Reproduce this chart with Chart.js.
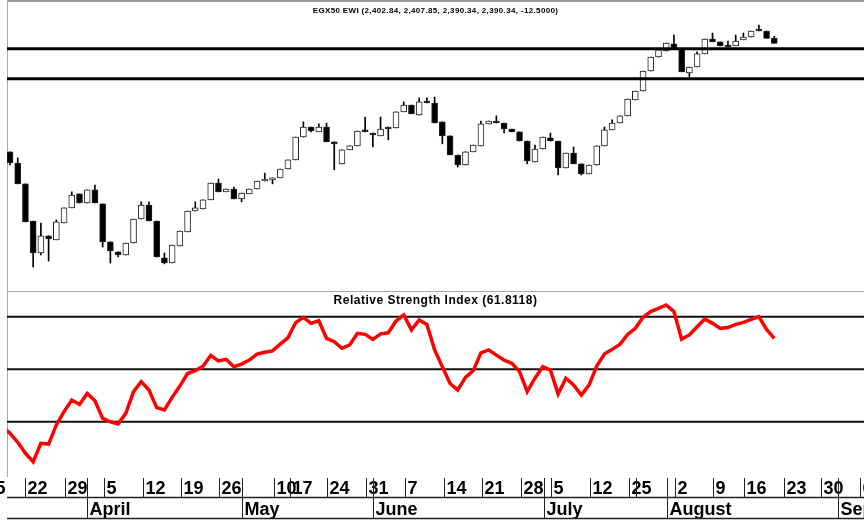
<!DOCTYPE html>
<html>
<head>
<meta charset="utf-8">
<script src="https://cdn.jsdelivr.net/npm/chart.js@4.4.0/dist/chart.umd.min.js"></script>
<style>
  html, body { margin: 0; padding: 0; background: #fff; }
  canvas { display: block; }
</style>
</head>
<body>
<canvas id="chart" width="864" height="523"></canvas>
<script>
// ── Данные: EGX50 EWI, дневные свечи ─────────────────────
const open = [2119, 2091, 2039, 1946, 1866, 1909, 1899, 1941, 1979, 2014,
  1991, 2024, 1989, 1894, 1869, 1861, 1891, 1951, 1986, 1946,
  1854, 1841, 1884, 1919, 1971, 1976, 1999, 2041, 2019, 2026,
  2001, 2014, 2026, 2046, 2049, 2054, 2076, 2099, 2156, 2181,
  2169, 2181, 2144, 2089, 2124, 2134, 2171, 2166, 2159, 2181,
  2179, 2219, 2236, 2211, 2246, 2241, 2194, 2159, 2111, 2086,
  2119, 2134, 2189, 2196, 2191, 2176, 2169, 2146, 2094, 2126,
  2154, 2146, 2079, 2116, 2089, 2064, 2086, 2134, 2174, 2191,
  2209, 2249, 2271, 2321, 2356, 2371, 2389, 2376, 2316, 2331,
  2364, 2401, 2394, 2384, 2384, 2399, 2406, 2424, 2421, 2402.84]
const high = [2119, 2104, 2039, 1946, 1941, 1909, 1949, 1979, 2019, 2014,
  2024, 2036, 1989, 1894, 1869, 1891, 1951, 1994, 1994, 1946,
  1866, 1886, 1921, 1971, 1994, 1999, 2041, 2051, 2026, 2031,
  2016, 2026, 2046, 2066, 2054, 2076, 2099, 2156, 2194, 2181,
  2189, 2191, 2144, 2124, 2134, 2171, 2206, 2166, 2206, 2181,
  2219, 2244, 2236, 2254, 2254, 2256, 2194, 2159, 2111, 2119,
  2136, 2196, 2196, 2209, 2191, 2176, 2169, 2146, 2136, 2156,
  2166, 2146, 2116, 2131, 2089, 2086, 2134, 2181, 2199, 2209,
  2251, 2271, 2321, 2356, 2374, 2391, 2411, 2376, 2331, 2369,
  2401, 2416, 2394, 2396, 2411, 2416, 2421, 2436, 2421, 2407.85]
const low = [2086, 2039, 1944, 1831, 1861, 1846, 1899, 1941, 1979, 1991,
  1991, 1991, 1881, 1841, 1856, 1861, 1891, 1951, 1946, 1856,
  1839, 1841, 1884, 1919, 1971, 1976, 1999, 2019, 2019, 2001,
  1994, 2014, 2026, 2046, 2039, 2054, 2076, 2099, 2156, 2169,
  2169, 2144, 2074, 2089, 2124, 2134, 2169, 2131, 2159, 2149,
  2179, 2219, 2214, 2211, 2241, 2191, 2139, 2111, 2081, 2086,
  2119, 2134, 2189, 2191, 2166, 2169, 2146, 2089, 2094, 2126,
  2146, 2061, 2079, 2089, 2061, 2064, 2086, 2134, 2174, 2191,
  2209, 2249, 2271, 2321, 2356, 2371, 2379, 2319, 2306, 2331,
  2364, 2394, 2384, 2381, 2384, 2399, 2406, 2421, 2402.84, 2390.34]
const close = [2091, 2039, 1944, 1866, 1909, 1901, 1944, 1979, 2011, 1991,
  2024, 1991, 1894, 1871, 1861, 1891, 1951, 1986, 1946, 1856,
  1841, 1886, 1921, 1971, 1979, 1999, 2041, 2019, 2026, 2001,
  2016, 2026, 2046, 2051, 2054, 2076, 2099, 2156, 2181, 2171,
  2181, 2144, 2139, 2124, 2134, 2171, 2169, 2161, 2176, 2176,
  2219, 2236, 2214, 2244, 2241, 2191, 2159, 2111, 2086, 2119,
  2136, 2189, 2196, 2191, 2176, 2169, 2146, 2096, 2126, 2156,
  2146, 2079, 2116, 2089, 2064, 2086, 2134, 2174, 2191, 2209,
  2251, 2271, 2321, 2356, 2374, 2391, 2379, 2319, 2331, 2364,
  2401, 2394, 2384, 2381, 2396, 2406, 2421, 2421, 2402.84, 2390.34]

// горизонтальные уровни на графике цены
const priceLevels = [2377, 2302]

// RSI (первая точка — день до первой видимой свечи)
const rsiStart = -1
const rsi = [28.2,
  25.6, 22.2, 18.0, 14.8, 21.8, 21.5, 28.8, 33.9, 38.3, 36.6,
  40.8, 38.0, 31.3, 30.0, 29.2, 33.2, 41.5, 45.3, 42.1, 35.4,
  34.5, 39.3, 43.6, 48.4, 49.5, 51.2, 55.3, 53.2, 53.8, 51.0,
  52.0, 53.5, 55.8, 56.5, 57.0, 59.6, 62.0, 67.8, 69.8, 67.5,
  68.5, 61.8, 60.5, 58.0, 59.3, 63.7, 63.3, 61.4, 63.5, 63.9,
  68.4, 70.7, 65.0, 68.8, 67.1, 57.4, 51.0, 44.6, 42.1, 46.9,
  49.5, 56.3, 57.4, 55.4, 53.5, 52.3, 49.1, 41.5, 46.6, 51.0,
  49.7, 40.6, 46.6, 44.0, 40.2, 44.0, 51.2, 55.8, 57.6, 59.5,
  63.3, 65.6, 69.8, 72.0, 73.2, 74.5, 72.0, 61.5, 63.1, 66.2,
  69.2, 67.5, 65.6, 65.9, 67.1, 67.9, 69.0, 70.1, 65.2, 61.8118]
const rsiLevels = [70, 50, 30]

// ось X: недельные метки (позиция в торговых днях) и границы месяцев
const weekTickPos    = [-3.5, 2, 7.1, 12.2, 17.2, 22.2, 27.1, 34.2, 36.3, 41.1, 46.1, 51.2, 56.2, 61.2, 66.2, 70.1, 75.1, 80.2, 81.1, 86.1, 91.1, 95.1, 100.2, 105.1, 110.1]
const weekTickLabels = ['15', '22', '29', '5', '12', '19', '26', '10', '17', '24', '31', '7', '14', '21', '28', '5', '12', '25', '', '2', '9', '16', '23', '30', '6']
const monthPos    = [10, 30.1, 47, 69.2, 85.1, 107.3]
const monthLabels = ['April', 'May', 'June', 'July', 'August', 'September']

const days = close.map((_, i) => i)
const FONT = '"Liberation Sans", Arial, sans-serif'

// ── Рамка, уровни, заголовки и ось дат ────────────────────
const frame = {
  id: 'frame',
  beforeDraw(chart) {
    const { ctx, width, height } = chart
    ctx.save()
    ctx.fillStyle = '#fff'
    ctx.fillRect(0, 0, width, height)
    ctx.restore()
  },
  beforeDatasetsDraw(chart) {
    const { ctx, chartArea: a, scales: { yR } } = chart
    ctx.save()
    ctx.strokeStyle = '#9a9a9a'
    ctx.lineWidth = 2
    ctx.beginPath(); ctx.moveTo(a.left, 1); ctx.lineTo(a.right, 1); ctx.stroke()
    ctx.strokeStyle = '#aaa'
    ctx.lineWidth = 1
    ctx.beginPath(); ctx.moveTo(a.left + 0.5, 0); ctx.lineTo(a.left + 0.5, a.bottom); ctx.stroke()
    ctx.beginPath(); ctx.moveTo(a.left, 291.5); ctx.lineTo(a.right, 291.5); ctx.stroke()

    ctx.strokeStyle = '#111'
    ctx.lineWidth = 2
    rsiLevels.forEach(v => {
      const y = yR.getPixelForValue(v)
      ctx.beginPath(); ctx.moveTo(a.left, y); ctx.lineTo(a.right, y); ctx.stroke()
    })
    ctx.restore()
  },
  afterDatasetsDraw(chart) {
    // уровни цены лежат поверх свечей
    const { ctx, chartArea: a, scales: { yP } } = chart
    ctx.save()
    ctx.strokeStyle = '#000'
    ctx.lineWidth = 3
    priceLevels.forEach(v => {
      const y = yP.getPixelForValue(v)
      ctx.beginPath(); ctx.moveTo(a.left, y); ctx.lineTo(a.right, y); ctx.stroke()
    })
    ctx.restore()
  },
  afterDraw(chart) {
    const { ctx, chartArea: a, scales: { x } } = chart
    const n = close.length - 1
    const fmt = v => v.toLocaleString('en-US', { minimumFractionDigits: 2, maximumFractionDigits: 2 })
    ctx.save()
    ctx.fillStyle = '#000'
    ctx.textAlign = 'center'
    ctx.textBaseline = 'alphabetic'

    ctx.font = 'bold 8px ' + FONT
    ctx.letterSpacing = '0.35px'
    ctx.fillText(`EGX50 EWI (${fmt(open[n])}, ${fmt(high[n])}, ${fmt(low[n])}, ${fmt(close[n])}, ${(close[n] - close[n - 1]).toFixed(4)})`, 435.5, 12.5)

    ctx.font = 'bold 12px ' + FONT
    ctx.letterSpacing = '0.5px'
    ctx.fillText(`Relative Strength Index (${rsi[rsi.length - 1].toFixed(4)})`, 435.5, 304)

    // ось дат
    ctx.letterSpacing = '0px'
    ctx.textAlign = 'left'
    ctx.font = 'bold 18px ' + FONT
    ctx.strokeStyle = '#222'
    ctx.lineWidth = 1
    weekTickPos.forEach((v, i) => {
      const px = Math.round(x.getPixelForValue(v)) + 0.5
      ctx.beginPath(); ctx.moveTo(px, 478); ctx.lineTo(px, 497); ctx.stroke()
      ctx.fillText(weekTickLabels[i], px + 2, 494)
    })
    monthPos.forEach((v, i) => {
      const px = Math.round(x.getPixelForValue(v)) + 0.5
      ctx.beginPath(); ctx.moveTo(px, 478); ctx.lineTo(px, 519); ctx.stroke()
      ctx.fillText(monthLabels[i], px + 2, 515)
    })
    ctx.lineWidth = 1.5
    ctx.beginPath(); ctx.moveTo(a.left, 497.5); ctx.lineTo(a.right, 497.5); ctx.stroke()
    ctx.beginPath(); ctx.moveTo(a.left, 518.5); ctx.lineTo(a.right, 518.5); ctx.stroke()
    ctx.restore()
  }
}

new Chart(document.getElementById('chart'), {
  type: 'bar',
  data: {
    datasets: [
      {
        type: 'line',
        data: rsi.map((v, i) => ({ x: i + rsiStart, y: v })),
        yAxisID: 'yR',
        borderColor: '#ff0000',
        borderWidth: 3.5,
        pointRadius: 0,
        tension: 0,
        clip: 0,
        order: 1
      },
      {
        data: days.map(i => ({ x: i, y: [open[i], close[i]] })),
        yAxisID: 'yP',
        grouped: false,
        barThickness: 6,
        minBarLength: 2,
        backgroundColor: c => close[c.dataIndex] < open[c.dataIndex] ? '#000' : '#fff',
        borderColor: '#222',
        borderWidth: 1,
        borderSkipped: false,
        order: 2
      },
      {
        data: days.map(i => ({ x: i, y: [low[i], high[i]] })),
        yAxisID: 'yP',
        grouped: false,
        barThickness: 1,
        backgroundColor: '#000',
        borderWidth: 0,
        order: 3
      }
    ]
  },
  options: {
    responsive: false,
    animation: false,
    layout: { padding: { left: 7, right: 0, top: 0, bottom: 46 } },
    plugins: { legend: { display: false }, tooltip: { enabled: false } },
    scales: {
      x:  { type: 'linear', min: -0.39, max: 110.62, offset: false, display: false },
      yP: { type: 'linear', min: 1306.1, max: 2498.6, display: false },
      yR: { type: 'linear', min: 8.97, max: 190.69, display: false }
    }
  },
  plugins: [frame]
})
</script>
</body>
</html>
